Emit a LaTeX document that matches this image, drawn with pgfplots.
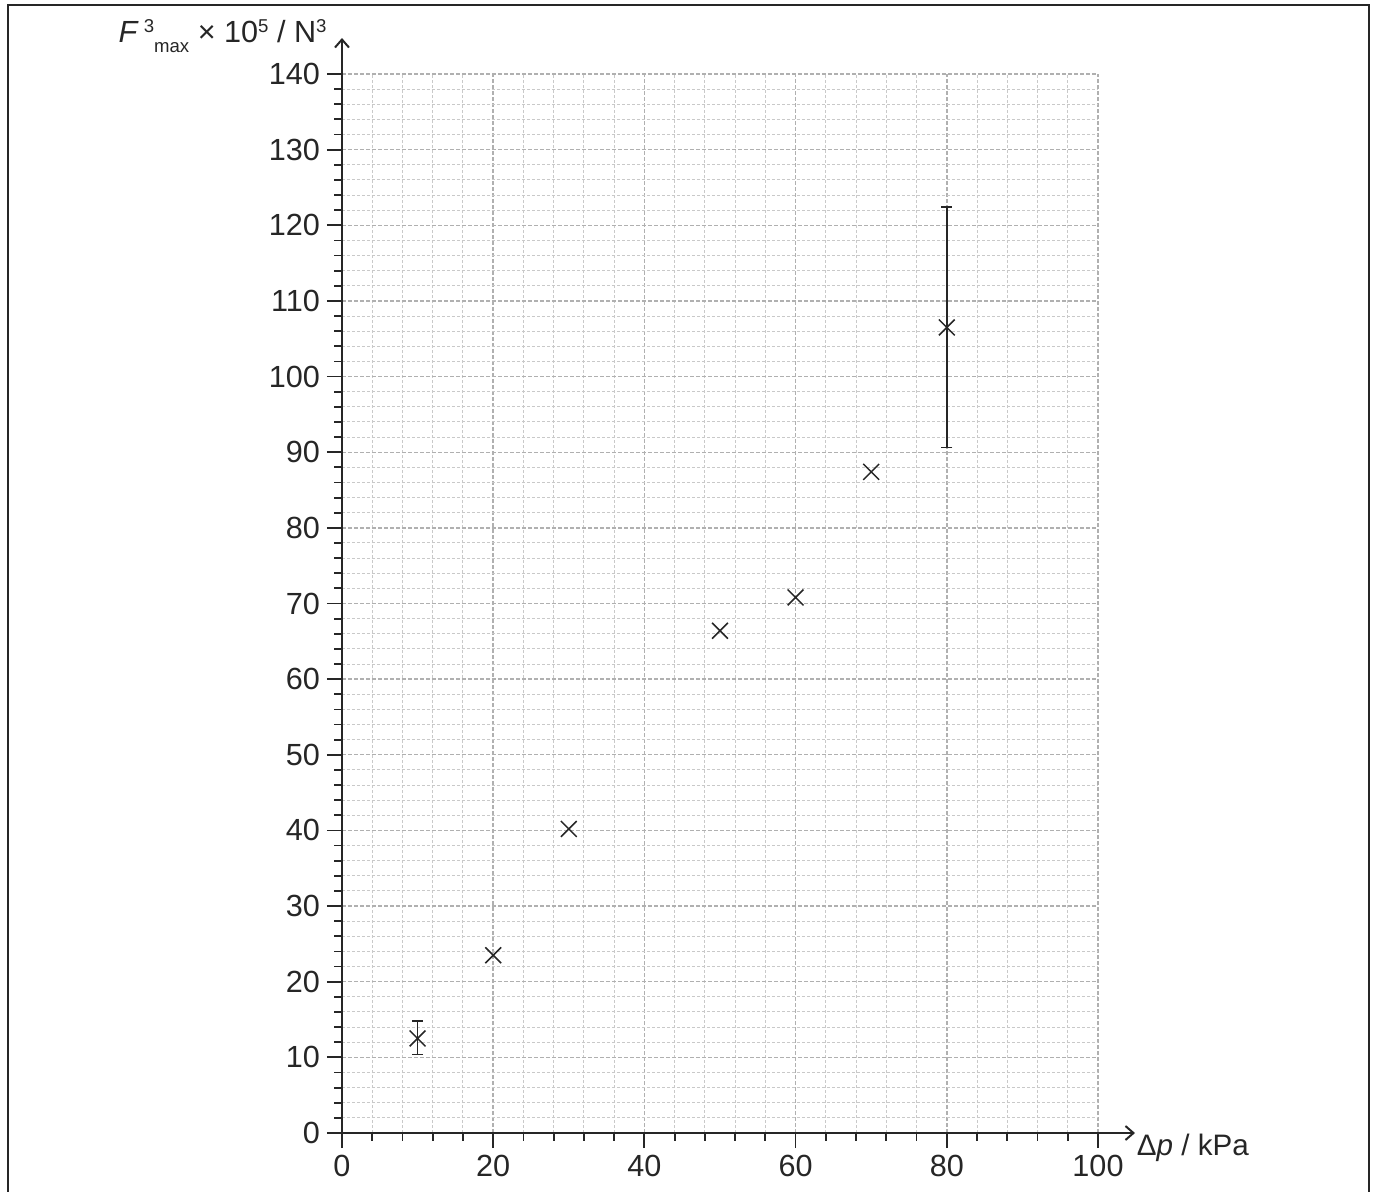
\documentclass[border=0pt]{standalone}
\usepackage{pgfplots}
\pgfplotsset{compat=1.18}
\usepackage{fontspec}
\setmainfont{Liberation Sans}
\usetikzlibrary{arrows.meta}

\newcommand{\sups}[1]{\raisebox{5.4pt}{\fontsize{9.3}{9}\selectfont #1}}
\newcommand{\subs}[1]{\raisebox{-4.6pt}{\fontsize{9.3}{9}\selectfont #1}}

\begin{document}
\begin{tikzpicture}
% picture size fixed to the reference (1 px = 0.5 pt), origin at data (0,0)
\useasboundingbox (-171pt,-29pt) rectangle (517.5pt,566.5pt);
\draw[line width=1pt, black!85] (-167pt,-40pt) -- (-167pt,564pt) -- (513.5pt,564pt) -- (513.5pt,-40pt);

\begin{axis}[
    anchor=origin,
    at={(0pt,0pt)},
    scale only axis,
    width=378pt,
    height=529.5pt,
    xmin=0, xmax=100,
    ymin=0, ymax=140,
    axis lines=left,
    x axis line style={-{Straight Barb[length=4pt,width=7pt]}, shorten >=-18.5pt},
    y axis line style={-{Straight Barb[length=4pt,width=7pt]}, shorten >=-18pt},
    axis line style={line width=1pt, black!85},
    xtick={0,20,...,100},
    ytick={0,10,...,140},
    minor x tick num=4,
    minor y tick num=4,
    tick align=outside,
    major tick length=7.5pt,
    minor tick length=3.75pt,
    tick style={line width=0.9pt, black!85},
    grid=both,
    major grid style={dash pattern=on 2pt off 1pt, gray!62, line width=0.7pt},
    minor grid style={dash pattern=on 1.6pt off 0.9pt, gray!42, line width=0.5pt},
    ticklabel style={font=\fontsize{15.3}{17}\selectfont, text=black!85},
    /pgf/number format/assume math mode=true,
    clip=false,
]

% points without error bars
\addplot[only marks, mark=x, mark size=5.6pt, black!85, line width=0.75pt] coordinates {
    (20,23.5) (30,40.2) (50,66.4) (60,70.8) (70,87.4)
};

% points with error bars
\addplot[only marks, mark=x, mark size=5.6pt, black!85, line width=0.75pt,
    error bars/.cd, y dir=both, y explicit,
    error bar style={line width=0.75pt, black!85},
    error mark options={rotate=90, mark size=2.75pt, line width=0.75pt, black!85}]
    table[x=x, y=y, y error plus=ep, y error minus=em] {
    x   y      ep    em
    10  12.5   2.3   2.1
    80  106.5  15.9  15.9
};

\node[anchor=base east, inner xsep=0pt, font=\fontsize{15.3}{17}\selectfont, text=black!85]
    at (axis cs:-2.0,144.1) {\textit{F}\,\sups{3}\subs{max} × 10\sups{5} / N\sups{3}};
\node[anchor=base west, inner xsep=0pt, font=\fontsize{14.8}{17}\selectfont, text=black!85]
    at (axis cs:105.1,-3.0) {Δ\textit{p} / kPa};
\end{axis}
\end{tikzpicture}
\end{document}
